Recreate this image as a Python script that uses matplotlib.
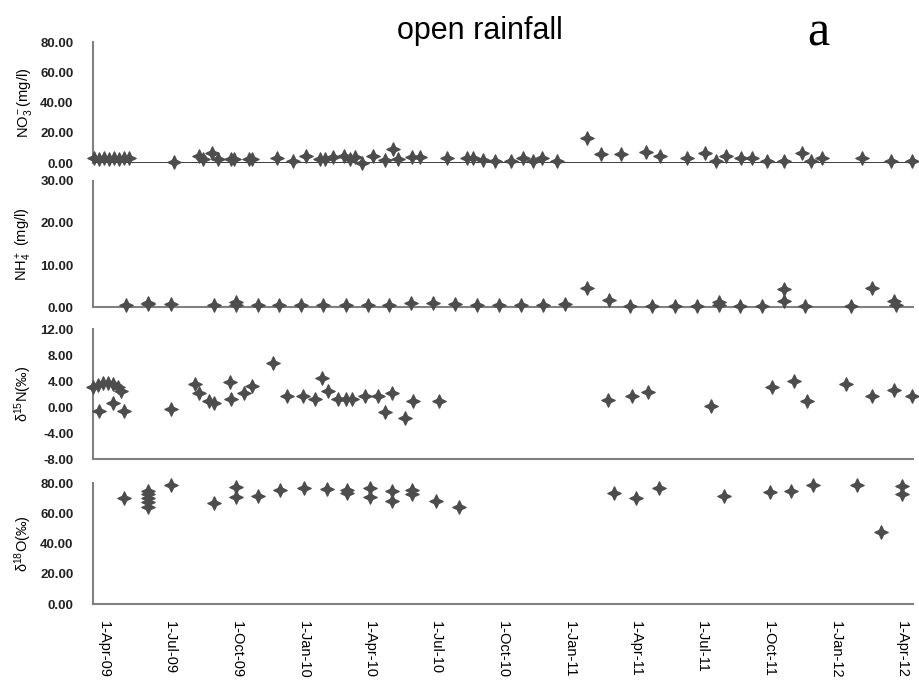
import matplotlib.pyplot as plt
from matplotlib.path import Path
import pandas as pd
import numpy as np

# nitrate (mg/l)
no3_dates = ['2009-03-18', '2009-03-25', '2009-04-01', '2009-04-08', '2009-04-15',
             '2009-04-22', '2009-04-28', '2009-05-05', '2009-07-06', '2009-08-09',
             '2009-08-15', '2009-08-28', '2009-09-04', '2009-09-22', '2009-09-27',
             '2009-10-17', '2009-10-22', '2009-11-25', '2009-12-17', '2010-01-04',
             '2010-01-23', '2010-01-30', '2010-02-10', '2010-02-24', '2010-03-05',
             '2010-03-12', '2010-03-22', '2010-04-06', '2010-04-22', '2010-05-03',
             '2010-05-10', '2010-05-29', '2010-06-09', '2010-07-16', '2010-08-13',
             '2010-08-21', '2010-09-04', '2010-09-20', '2010-10-12', '2010-10-28',
             '2010-11-11', '2010-11-23', '2010-12-14', '2011-01-24', '2011-02-12',
             '2011-03-12', '2011-04-15', '2011-05-04', '2011-06-11', '2011-07-06',
             '2011-07-21', '2011-08-03', '2011-08-24', '2011-09-08', '2011-09-28',
             '2011-10-22', '2011-11-15', '2011-11-28', '2011-12-13', '2012-02-06',
             '2012-03-17', '2012-04-15']
no3_vals = [3.0, 2.5, 3.5, 2.5, 3.2, 2.5, 3.5, 3.5, 0.5, 4.6,
            2.6, 6.6, 2.6, 2.6, 2.6, 2.6, 2.6, 3.3, 1.5, 4.6,
            2.6, 2.6, 4.0, 4.6, 2.6, 4.0, 0.2, 4.6, 2.0, 9.3,
            2.6, 4.2, 4.0, 3.3, 3.3, 3.3, 2.0, 1.5, 1.5, 3.3,
            1.5, 3.3, 1.5, 16.5, 6.0, 6.0, 7.3, 4.6, 3.3, 6.6,
            1.5, 4.6, 3.3, 3.3, 1.5, 1.5, 6.6, 1.5, 3.3, 3.3,
            1.5, 1.5]

# ammonium (mg/l)
nh4_dates = ['2009-05-01', '2009-05-31', '2009-05-31', '2009-07-02', '2009-08-30',
             '2009-09-29', '2009-09-29', '2009-10-29', '2009-11-28', '2009-12-28',
             '2010-01-27', '2010-02-28', '2010-03-29', '2010-04-28', '2010-05-28',
             '2010-06-27', '2010-07-27', '2010-08-26', '2010-09-26', '2010-10-26',
             '2010-11-25', '2010-12-25', '2011-01-24', '2011-02-23', '2011-03-25',
             '2011-04-24', '2011-05-25', '2011-06-24', '2011-07-24', '2011-07-24',
             '2011-08-23', '2011-09-22', '2011-10-22', '2011-10-22', '2011-11-20',
             '2012-01-22', '2012-02-20', '2012-03-21', '2012-03-24']
nh4_vals = [0.5, 0.7, 1.0, 0.7, 0.4, 1.2, 0.5, 0.4, 0.4, 0.4,
            0.5, 0.4, 0.5, 0.5, 0.9, 0.9, 0.8, 0.5, 0.4, 0.4,
            0.5, 0.7, 4.5, 1.6, 0.3, 0.3, 0.3, 0.3, 1.2, 0.5,
            0.3, 0.3, 4.2, 1.5, 0.3, 0.3, 4.5, 1.5, 0.5]

# delta 15N of nitrate (permil)
d15n_dates = ['2009-03-17', '2009-03-24', '2009-03-31', '2009-04-06', '2009-04-13',
              '2009-04-20', '2009-04-24', '2009-03-25', '2009-04-13', '2009-04-28',
              '2009-07-02', '2009-08-04', '2009-08-09', '2009-08-23', '2009-08-30',
              '2009-09-21', '2009-09-22', '2009-10-10', '2009-10-21', '2009-11-19',
              '2009-12-09', '2009-12-30', '2010-01-16', '2010-01-26', '2010-02-02',
              '2010-02-16', '2010-02-27', '2010-03-07', '2010-03-26', '2010-04-13',
              '2010-04-22', '2010-05-02', '2010-05-20', '2010-05-31', '2010-07-05',
              '2011-02-22', '2011-03-27', '2011-04-18', '2011-07-14', '2011-10-05',
              '2011-11-05', '2011-11-23', '2012-01-15', '2012-02-20', '2012-03-21',
              '2012-04-15']
d15n_vals = [3.1, 3.4, 3.7, 3.7, 3.5, 3.1, 2.5, -0.6, 0.6, -0.6,
             -0.3, 3.5, 2.1, 1.0, 0.6, 3.8, 1.2, 2.1, 3.2, 6.7,
             1.7, 1.7, 1.2, 4.4, 2.5, 1.2, 1.2, 1.2, 1.7, 1.7,
             -0.8, 2.1, -1.7, 0.9, 0.9, 1.1, 1.7, 2.3, 0.2, 3.1,
             4.0, 0.9, 3.5, 1.7, 2.6, 1.7]

# delta 18O of nitrate (permil)
d18o_dates = ['2009-04-28', '2009-05-31', '2009-05-31', '2009-05-31', '2009-05-31',
              '2009-05-31', '2009-07-02', '2009-08-30', '2009-09-29', '2009-09-29',
              '2009-10-30', '2009-11-29', '2010-01-01', '2010-02-01', '2010-03-01',
              '2010-03-01', '2010-04-02', '2010-04-02', '2010-05-02', '2010-05-02',
              '2010-05-29', '2010-05-29', '2010-07-01', '2010-08-02', '2011-03-02',
              '2011-04-01', '2011-05-03', '2011-07-31', '2011-10-02', '2011-11-01',
              '2011-11-30', '2012-01-30', '2012-03-03', '2012-04-01', '2012-04-01']
d18o_vals = [70.0, 75.0, 72.7, 70.0, 67.4, 64.0, 79.0, 66.8, 77.4, 70.9,
             71.4, 75.4, 76.7, 76.0, 75.4, 73.4, 76.7, 71.0, 74.7, 68.0,
             75.4, 72.7, 68.0, 64.0, 73.4, 70.0, 76.7, 71.4, 74.0, 74.7,
             78.7, 78.7, 47.6, 78.0, 72.7]

tick_dates = pd.date_range('2009-04-01', '2012-04-01', freq='3MS')
tick_labels = [f'{d.day}-{d.strftime("%b-%y")}' for d in tick_dates]

plt.rcParams['font.family'] = ['Liberation Sans', 'DejaVu Sans']
plt.rcParams['mathtext.fontset'] = 'custom'
plt.rcParams['mathtext.rm'] = 'Liberation Sans'
plt.rcParams['mathtext.it'] = 'Liberation Sans:italic'

# four pointed star marker
t = np.arange(8) * np.pi / 4
r = np.where(np.arange(8) % 2 == 0, 1.0, 0.45)
star = Path(np.column_stack([r * np.sin(t), r * np.cos(t)]).tolist() + [[0, 1]], closed=True)

mcol = '#4d4d4d'
axcol = '#808080'

fig = plt.figure(figsize=(9.19, 6.85), dpi=100)
left, width = 0.1012, 0.8923
panels = [
    (no3_dates, no3_vals, [0.762, 0.1766], (0, 80), np.arange(0, 81, 20), 'NO$_3^-$(mg/l)'),
    (nh4_dates, nh4_vals, [0.5518, 0.184], (0, 30), np.arange(0, 31, 10), 'NH$_4^+$ (mg/l)'),
    (d15n_dates, d15n_vals, [0.3299, 0.1898], (-8, 12), np.arange(-8, 13, 4), 'δ$^{15}$N(‰)'),
    (d18o_dates, d18o_vals, [0.1182, 0.1766], (0, 80), np.arange(0, 81, 20), 'δ$^{18}$O(‰)'),
]
xmin, xmax = pd.Timestamp('2009-03-17'), pd.Timestamp('2012-04-16')

axes = []
for i, (dates, vals, (bot, h), ylim, yticks, ylab) in enumerate(panels):
    ax = fig.add_axes([left, bot, width, h])
    ax.plot(pd.to_datetime(dates), vals, linestyle='none', marker=star,
            ms=9.5, color=mcol, mec=mcol, clip_on=False, zorder=3)
    ax.set_xlim(xmin, xmax)
    ax.set_ylim(*ylim)
    ax.set_yticks(yticks)
    ax.set_yticklabels([f'{v:.2f}' for v in yticks])
    ax.tick_params(axis='y', length=0, pad=14, labelsize=9.5, labelcolor='#222222')
    for lab in ax.get_yticklabels():
        lab.set_fontweight('bold')
    ax.spines[['top', 'right']].set_visible(False)
    ax.spines['left'].set_color(axcol)
    ax.spines['left'].set_linewidth(1.5)
    ax.spines['bottom'].set_color(axcol)
    ax.spines['bottom'].set_linewidth(1.5)
    ax.set_ylabel(ylab, fontsize=10.5)
    ax.yaxis.set_label_coords(-0.072, 0.5)
    ax.set_xticks(tick_dates)
    if i == 3:
        ax.set_xticklabels(tick_labels, rotation=-90, fontsize=10.5, va='top', ha='center')
        ax.tick_params(axis='x', length=0, pad=12)
    else:
        ax.tick_params(axis='x', length=0, labelbottom=False)
    axes.append(ax)

# nitrate panel has no frame at the bottom, just a dark zero line
axes[0].spines['bottom'].set_visible(False)
axes[0].axhline(0, color='black', lw=1.8, zorder=2)

fig.text(0.522, 0.955, 'open rainfall', fontsize=22, ha='center', va='center')
fig.text(0.89, 0.952, 'a', fontsize=36, ha='center', va='center', family='Liberation Serif')

fig.savefig('out.png', dpi=100)
